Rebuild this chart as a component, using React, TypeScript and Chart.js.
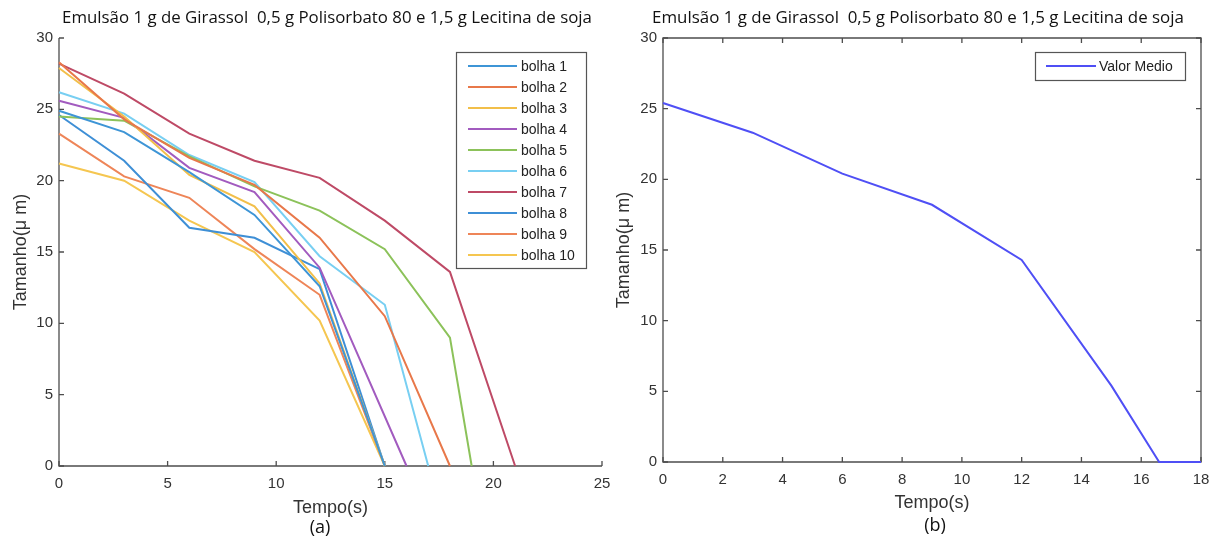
import React, { useEffect, useRef } from "react";
import { Chart, registerables } from "chart.js";

Chart.register(...registerables);

// ---------- data ----------
const TITLE = "Emulsão 1 g de Girassol  0,5 g Polisorbato 80 e 1,5 g Lecitina de soja";

const bolhaLabels = ["bolha 1", "bolha 2", "bolha 3", "bolha 4", "bolha 5", "bolha 6", "bolha 7", "bolha 8", "bolha 9", "bolha 10"];
const bolhaColors = ["#3e95d6", "#e8784a", "#f2bf4a", "#a25bbf", "#8cc25a", "#78cff2", "#be4a66", "#3e8fd6", "#ee8558", "#f5c650"];

const bolha1Tempo = [0, 3, 6, 9, 12, 15];
const bolha1Tamanho = [24.9, 23.4, 20.6, 17.6, 12.6, 0];
const bolha2Tempo = [0, 3, 6, 9, 12, 15, 18];
const bolha2Tamanho = [28.3, 24.3, 21.6, 19.7, 16.0, 10.5, 0];
const bolha3Tempo = [0, 3, 6, 9, 12, 15];
const bolha3Tamanho = [27.9, 24.5, 20.4, 18.2, 12.8, 0];
const bolha4Tempo = [0, 3, 6, 9, 12, 16];
const bolha4Tamanho = [25.6, 24.4, 20.9, 19.2, 13.9, 0];
const bolha5Tempo = [0, 3, 6, 9, 12, 15, 18, 19];
const bolha5Tamanho = [24.5, 24.2, 21.7, 19.6, 17.9, 15.2, 9.0, 0];
const bolha6Tempo = [0, 3, 6, 9, 12, 15, 17];
const bolha6Tamanho = [26.2, 24.7, 21.8, 19.9, 14.7, 11.3, 0];
const bolha7Tempo = [0, 3, 6, 9, 12, 15, 18, 21];
const bolha7Tamanho = [28.2, 26.1, 23.3, 21.4, 20.2, 17.2, 13.6, 0];
const bolha8Tempo = [0, 3, 6, 9, 12, 15];
const bolha8Tamanho = [24.6, 21.4, 16.7, 16.0, 13.8, 0];
const bolha9Tempo = [0, 3, 6, 9, 12, 15];
const bolha9Tamanho = [23.3, 20.3, 18.8, 15.2, 12.0, 0];
const bolha10Tempo = [0, 3, 6, 9, 12, 15];
const bolha10Tamanho = [21.2, 20.0, 17.2, 15.0, 10.2, 0];

const bolhaTempos = [bolha1Tempo, bolha2Tempo, bolha3Tempo, bolha4Tempo, bolha5Tempo, bolha6Tempo, bolha7Tempo, bolha8Tempo, bolha9Tempo, bolha10Tempo];
const bolhaTamanhos = [bolha1Tamanho, bolha2Tamanho, bolha3Tamanho, bolha4Tamanho, bolha5Tamanho, bolha6Tamanho, bolha7Tamanho, bolha8Tamanho, bolha9Tamanho, bolha10Tamanho];

const mediaLabel = "Valor Medio";
const mediaColor = "#4f4ff5";
const mediaTempo = [0, 3, 6, 9, 12, 15, 16.6, 18];
const mediaTamanho = [25.4, 23.3, 20.4, 18.2, 14.3, 5.4, 0, 0];

const xTicksA = [0, 5, 10, 15, 20, 25];
const xTicksB = [0, 2, 4, 6, 8, 10, 12, 14, 16, 18];
const yTicks = [0, 5, 10, 15, 20, 25, 30];

// ---------- styling ----------
const AXIS_COLOR = "#4d4d4d";
const TEXT_COLOR = "#333333";
const SANS = '"Liberation Sans", Arial, sans-serif';
const TITLE_FONT = '"Open Sans", sans-serif';

type LegendItem = { label: string; color: string };
type DecorCfg = {
  box: boolean;
  xTicks: number[];
  yTicks: number[];
  titleCx: number;
  titleW: number;
  sub: string;
  subCx: number;
  subY: number;
  legend: { x: number; y: number; w: number; h: number; rowY0: number; rowH: number; lx1: number; lx2: number; tx: number; items: LegendItem[] };
};

function makeDecor(cfg: DecorCfg) {
  return {
    id: "decor",
    beforeDatasetsDraw(chart: any) {
      const ctx = chart.ctx;
      const { left, right, top, bottom } = chart.chartArea;
      const xs = chart.scales.x;
      const ys = chart.scales.y;
      ctx.save();
      ctx.strokeStyle = AXIS_COLOR;
      ctx.lineWidth = 1.3;
      ctx.beginPath();
      if (cfg.box) {
        ctx.rect(left, top, right - left, bottom - top);
      } else {
        ctx.moveTo(left, top);
        ctx.lineTo(left, bottom);
        ctx.lineTo(right, bottom);
      }
      ctx.stroke();
      ctx.beginPath();
      cfg.xTicks.forEach((v) => {
        const p = xs.getPixelForValue(v);
        ctx.moveTo(p, bottom);
        ctx.lineTo(p, bottom - 5);
        if (cfg.box) {
          ctx.moveTo(p, top);
          ctx.lineTo(p, top + 5);
        }
      });
      cfg.yTicks.forEach((v) => {
        const p = ys.getPixelForValue(v);
        ctx.moveTo(left, p);
        ctx.lineTo(left + 5, p);
        if (cfg.box) {
          ctx.moveTo(right, p);
          ctx.lineTo(right - 5, p);
        }
      });
      ctx.stroke();
      ctx.restore();
    },
    afterDraw(chart: any) {
      const ctx = chart.ctx;
      ctx.save();
      // title
      ctx.font = `16px ${TITLE_FONT}`;
      const w = ctx.measureText(TITLE).width;
      const size = (16 * cfg.titleW) / w;
      ctx.font = `${size.toFixed(2)}px ${TITLE_FONT}`;
      ctx.fillStyle = "#111";
      ctx.textAlign = "center";
      ctx.textBaseline = "middle";
      ctx.fillText(TITLE, cfg.titleCx, 18);
      // sub label
      ctx.font = `18px ${TITLE_FONT}`;
      ctx.fillText(cfg.sub, cfg.subCx, cfg.subY);
      // legend
      const L = cfg.legend;
      ctx.fillStyle = "#fff";
      ctx.fillRect(L.x, L.y, L.w, L.h);
      ctx.strokeStyle = "#555";
      ctx.lineWidth = 1.2;
      ctx.strokeRect(L.x, L.y, L.w, L.h);
      ctx.font = `14px ${SANS}`;
      ctx.textAlign = "left";
      ctx.textBaseline = "middle";
      L.items.forEach((it, i) => {
        const y = L.rowY0 + i * L.rowH;
        ctx.strokeStyle = it.color;
        ctx.lineWidth = 2;
        ctx.beginPath();
        ctx.moveTo(L.lx1, y);
        ctx.lineTo(L.lx2, y);
        ctx.stroke();
        ctx.fillStyle = "#222";
        ctx.fillText(it.label, L.tx, y + 1);
      });
      ctx.restore();
    },
  };
}

function axisOptions(xMax: number, xStep: number, yWidth: number, xHeight: number, yTitlePad: number, xTitlePad: number) {
  return {
    x: {
      type: "linear",
      min: 0,
      max: xMax,
      afterFit: (s: any) => {
        s.height = xHeight;
        s.paddingLeft = 0;
        s.paddingRight = 0;
      },
      ticks: { stepSize: xStep, color: TEXT_COLOR, font: { family: SANS, size: 15 }, padding: 9, maxRotation: 0, autoSkip: false },
      grid: { display: false, drawTicks: false },
      border: { display: false },
      title: { display: true, text: "Tempo(s)", color: TEXT_COLOR, font: { family: SANS, size: 18 }, padding: { top: 0, bottom: xTitlePad } },
    },
    y: {
      type: "linear",
      min: 0,
      max: 30,
      afterFit: (s: any) => {
        s.width = yWidth;
        s.paddingTop = 0;
        s.paddingBottom = 0;
      },
      ticks: { stepSize: 5, color: TEXT_COLOR, font: { family: SANS, size: 15 }, padding: 6 },
      grid: { display: false, drawTicks: false },
      border: { display: false },
      title: { display: true, text: "Tamanho(μ m)", color: TEXT_COLOR, font: { family: SANS, size: 18 }, padding: { top: yTitlePad, bottom: 0 } },
    },
  };
}

function LeftChart() {
  const ref = useRef<HTMLCanvasElement | null>(null);
  useEffect(() => {
    if (!ref.current) return;
    const datasets = bolhaLabels.map((label, i) => ({
      label,
      data: bolhaTempos[i].map((t, j) => ({ x: t, y: bolhaTamanhos[i][j] })),
      borderColor: bolhaColors[i],
      backgroundColor: bolhaColors[i],
      borderWidth: 2,
      pointRadius: 0,
      fill: false,
      tension: 0,
      clip: 4,
    }));
    const chart = new Chart(ref.current, {
      type: "line",
      data: { datasets },
      options: {
        animation: false,
        responsive: true,
        maintainAspectRatio: false,
        layout: { padding: { top: 38, right: 8, left: 0, bottom: 0 } },
        plugins: { legend: { display: false }, tooltip: { enabled: false } },
        scales: axisOptions(25, 5, 59, 73, 10, 20) as any,
      },
      plugins: [
        makeDecor({
          box: false,
          xTicks: xTicksA,
          yTicks,
          titleCx: 327,
          titleW: 530,
          sub: "(a)",
          subCx: 320,
          subY: 528,
          legend: {
            x: 456.5,
            y: 52.5,
            w: 130,
            h: 216,
            rowY0: 66,
            rowH: 21,
            lx1: 468,
            lx2: 517,
            tx: 521,
            items: bolhaLabels.map((l, i) => ({ label: l, color: bolhaColors[i] })),
          },
        }) as any,
      ],
    } as any);
    return () => chart.destroy();
  }, []);
  return <canvas ref={ref} />;
}

function RightChart() {
  const ref = useRef<HTMLCanvasElement | null>(null);
  useEffect(() => {
    if (!ref.current) return;
    const chart = new Chart(ref.current, {
      type: "line",
      data: {
        datasets: [
          {
            label: mediaLabel,
            data: mediaTempo.map((t, j) => ({ x: t, y: mediaTamanho[j] })),
            borderColor: mediaColor,
            backgroundColor: mediaColor,
            borderWidth: 2,
            pointRadius: 0,
            fill: false,
            tension: 0,
            clip: 4,
          },
        ],
      },
      options: {
        animation: false,
        responsive: true,
        maintainAspectRatio: false,
        layout: { padding: { top: 38, right: 18, left: 0, bottom: 0 } },
        plugins: { legend: { display: false }, tooltip: { enabled: false } },
        scales: axisOptions(18, 2, 53, 77, 3, 25) as any,
      },
      plugins: [
        makeDecor({
          box: true,
          xTicks: xTicksB,
          yTicks,
          titleCx: 308,
          titleW: 532,
          sub: "(b)",
          subCx: 325,
          subY: 526,
          legend: {
            x: 425.5,
            y: 52.5,
            w: 150,
            h: 28,
            rowY0: 66,
            rowH: 21,
            lx1: 436,
            lx2: 486,
            tx: 489,
            items: [{ label: mediaLabel, color: mediaColor }],
          },
        }) as any,
      ],
    } as any);
    return () => chart.destroy();
  }, []);
  return <canvas ref={ref} />;
}

export default function App() {
  useEffect(() => {
    document.body.style.margin = "0";
    document.body.style.background = "#fff";
  }, []);
  return (
    <div style={{ position: "relative", width: 1219, height: 539, overflow: "hidden", background: "#fff" }}>
      <div style={{ position: "absolute", left: 0, top: 0, width: 610, height: 539 }}>
        <LeftChart />
      </div>
      <div style={{ position: "absolute", left: 610, top: 0, width: 609, height: 539 }}>
        <RightChart />
      </div>
    </div>
  );
}
